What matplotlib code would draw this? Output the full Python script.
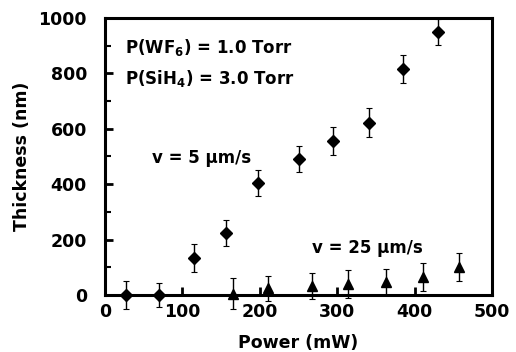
import matplotlib.pyplot as plt
from matplotlib.ticker import MultipleLocator

plt.rcParams['font.family'] = 'DejaVu Sans'
plt.rcParams['font.weight'] = 'bold'
plt.rcParams['axes.labelweight'] = 'bold'
plt.rcParams['mathtext.default'] = 'regular'

# v = 5 um/s (diamonds)
power_5 = [27, 70, 115, 156, 198, 251, 295, 341, 385, 430]
thick_5 = [0, 0, 133, 225, 405, 490, 555, 622, 815, 950]
err_5 = [50, 45, 50, 47, 48, 47, 50, 52, 50, 48]

# v = 25 um/s (triangles)
power_25 = [165, 211, 267, 314, 363, 411, 457]
thick_25 = [5, 25, 33, 40, 47, 65, 100]
err_25 = [55, 45, 48, 50, 48, 50, 50]

fig = plt.figure(figsize=(5.16, 3.52), dpi=100)
ax = fig.add_axes([105/516, 1 - 295/352, 387/516, 277/352])

ax.errorbar(power_5, thick_5, yerr=err_5, fmt='D', color='black', ms=6,
            elinewidth=1, capsize=2.5, capthick=0.8, clip_on=False, zorder=3)
ax.errorbar(power_25, thick_25, yerr=err_25, fmt='^', color='black', ms=7,
            elinewidth=1, capsize=2.5, capthick=0.8, clip_on=False, zorder=3)

ax.set_xlim(0, 500)
ax.set_ylim(0, 1000)
ax.xaxis.set_major_locator(MultipleLocator(100))
ax.yaxis.set_major_locator(MultipleLocator(200))
ax.yaxis.set_minor_locator(MultipleLocator(100))
ax.tick_params(axis='both', which='major', direction='in', length=6, width=2,
               labelsize=12.5)
ax.tick_params(axis='x', which='major', pad=6)
ax.tick_params(axis='y', which='major', pad=13)
ax.tick_params(axis='y', which='minor', direction='in', length=4, width=1.5)
for s in ax.spines.values():
    s.set_linewidth(2.2)

ax.set_xlabel('Power (mW)', fontsize=12.5, labelpad=9)
ax.set_ylabel('Thickness (nm)', fontsize=12.5, labelpad=5)

ax.text(26, 892, 'P(WF$_6$) = 1.0 Torr', fontsize=12, va='center')
ax.text(26, 783, 'P(SiH$_4$) = 3.0 Torr', fontsize=12, va='center')
ax.text(61, 493, 'v = 5 µm/s', fontsize=12, va='center')
ax.text(267, 170, 'v = 25 µm/s', fontsize=12, va='center')

fig.savefig('out.png', dpi=100)
